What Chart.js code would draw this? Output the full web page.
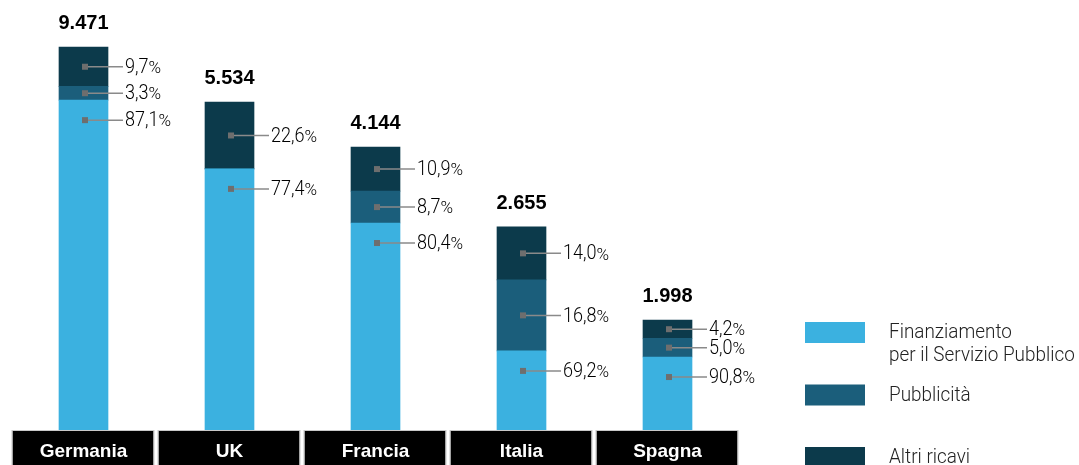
<!DOCTYPE html>
<html lang="it">
<head>
<meta charset="utf-8">
<script src="https://cdn.jsdelivr.net/npm/chart.js@4.4.1/dist/chart.umd.min.js"></script>
<style>
  html, body { margin: 0; padding: 0; background: #fff; }
  #wrap { width: 1079px; height: 465px; }
</style>
</head>
<body>
<div id="wrap"><canvas id="chart" width="1079" height="465"></canvas></div>
<script>
const categories = ["Germania", "UK", "Francia", "Italia", "Spagna"];
const totals = [9471, 5534, 4144, 2655, 1998];
// quote % dei ricavi (etichette)
const finanziamento = [87.1, 77.4, 80.4, 69.2, 90.8];
const pubblicita = [3.3, 0, 8.7, 16.8, 5.0];
const altriRicavi = [9.7, 22.6, 10.9, 14.0, 4.2];
// altezza dei segmenti come disegnati nel grafico (Germania = 100)
const altezzaFinanziamento = [85.9, 68.0, 53.9, 20.6, 19.0];
const altezzaPubblicita = [3.6, 0, 8.3, 18.5, 4.9];
const altezzaAltri = [10.2, 17.4, 11.5, 13.8, 4.7];
const seriesLabels = [["Finanziamento", "per il Servizio Pubblico"], ["Pubblicità"], ["Altri ricavi"]];
const seriesColors = ["#3bb1e0", "#1b5e7b", "#0c3a4b"];

const shares = [finanziamento, pubblicita, altriRicavi];
const heights = [altezzaFinanziamento, altezzaPubblicita, altezzaAltri];

function fmtTotal(n) {
  return String(n).replace(/\B(?=(\d{3})+(?!\d))/g, ".");
}

function lightText(ctx, str, x, y, size, sx) {
  ctx.save();
  ctx.translate(x, y);
  ctx.scale(sx, 1);
  ctx.font = `300 ${size}px Roboto`;
  ctx.fillText(str, 0, 0);
  const w = ctx.measureText(str).width * sx;
  ctx.restore();
  return w;
}

const overlay = {
  id: "overlay",
  afterDatasetsDraw(chart) {
    const ctx = chart.ctx;
    const xScale = chart.scales.x;

    // etichette percentuali con linea guida
    shares.forEach((arr, d) => {
      const meta = chart.getDatasetMeta(d);
      meta.data.forEach((bar, i) => {
        if (!arr[i]) return;
        const top = bar.y, base = bar.base;
        let y = (top + base) / 2;
        if (d === 0) y = Math.min(y, top + 20);
        const cx = bar.x + 1.5;
        const right = bar.x + bar.width / 2;
        ctx.save();
        ctx.strokeStyle = "#8a8a8a";
        ctx.lineWidth = 1.5;
        ctx.beginPath();
        ctx.moveTo(cx, y);
        ctx.lineTo(right + 15, y);
        ctx.stroke();
        ctx.fillStyle = "#6e6e6e";
        ctx.fillRect(cx - 3, y - 3, 6, 6);
        ctx.fillStyle = "#000";
        ctx.textBaseline = "middle";
        ctx.textAlign = "left";
        const num = arr[i].toFixed(1).replace(".", ",");
        const w = lightText(ctx, num, right + 17, y + 1, 20.5, 0.88);
        lightText(ctx, "%", right + 17 + w, y + 2, 17, 1);
        ctx.restore();
      });
    });

    // totali sopra le colonne
    const topMeta = chart.getDatasetMeta(2);
    topMeta.data.forEach((bar, i) => {
      ctx.save();
      ctx.fillStyle = "#000";
      ctx.font = "bold 20px 'Liberation Sans', Arial, sans-serif";
      ctx.textAlign = "center";
      ctx.textBaseline = "alphabetic";
      ctx.fillText(fmtTotal(totals[i]), bar.x, bar.y - 18);
      ctx.restore();
    });

    // box dei paesi
    categories.forEach((c, i) => {
      const x = xScale.getPixelForValue(i);
      ctx.save();
      ctx.fillStyle = "#000";
      ctx.fillRect(x - 71, 431, 141, 34);
      ctx.strokeStyle = "#c8c8c8";
      ctx.lineWidth = 1;
      ctx.strokeRect(x - 71.5, 430.5, 142, 36);
      ctx.fillStyle = "#fff";
      ctx.font = "bold 19px 'Liberation Sans', Arial, sans-serif";
      ctx.textAlign = "center";
      ctx.textBaseline = "alphabetic";
      ctx.fillText(c, x, 457);
      ctx.restore();
    });

    // legenda
    seriesLabels.forEach((lines, k) => {
      const top = 322 + k * 62.5;
      ctx.save();
      ctx.fillStyle = seriesColors[k];
      ctx.fillRect(805, top, 60, 21);
      ctx.fillStyle = "#222";
      ctx.textAlign = "left";
      ctx.textBaseline = "alphabetic";
      lines.forEach((ln, j) => {
        lightText(ctx, ln, 889, top + 16 + j * 23, 19.5, 0.97);
      });
      ctx.restore();
    });
  }
};

new Chart(document.getElementById("chart"), {
  type: "bar",
  data: {
    labels: categories,
    datasets: heights.map((arr, d) => ({
      label: seriesLabels[d].join(" "),
      data: arr,
      backgroundColor: seriesColors[d],
      borderWidth: 0,
      barThickness: 49,
    })),
  },
  options: {
    responsive: false,
    devicePixelRatio: 1,
    animation: false,
    layout: { padding: { top: 46, bottom: 35, left: 10.5, right: 338.5 } },
    plugins: { legend: { display: false }, tooltip: { enabled: false } },
    scales: {
      x: { stacked: true, display: false },
      y: { stacked: true, display: false, min: 0, max: 100 },
    },
  },
  plugins: [overlay],
});
</script>
</body>
</html>
